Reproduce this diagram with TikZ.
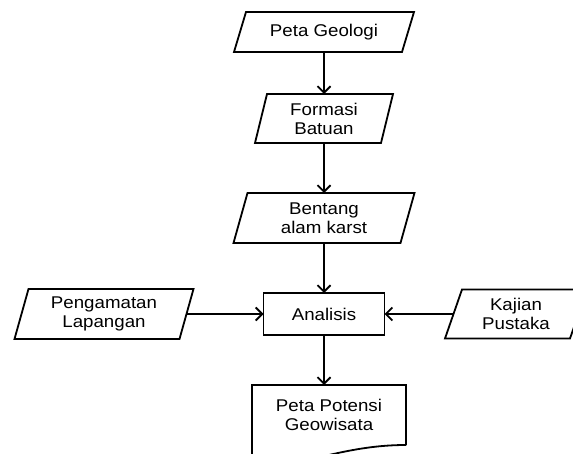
\documentclass[tikz,border=0pt]{standalone}
\usepackage{fontspec}
\setmainfont{Liberation Sans}[FakeStretch=1.1]
\usetikzlibrary{arrows.meta}
\newcommand\parashape[2]{\draw[line] ([xshift=#2/2]#1.north west) -- ([xshift=#2/2]#1.north east) -- ([xshift=-#2/2]#1.south east) -- ([xshift=-#2/2]#1.south west) -- cycle;}
\begin{document}
\begin{tikzpicture}[x=1pt,y=-1pt,
  box/.style={draw=none, inner sep=0pt, outer sep=0pt, align=center, font=\fontsize{17}{19}\selectfont},
  line/.style={line width=1.8pt, draw=black},
  arr/.style={line, -{Straight Barb[length=6.5pt,width=13pt,line width=1.8pt]}}]
\useasboundingbox (0,0) rectangle (573,454);
\clip (0,0) rectangle (573,454);
\node[box, minimum width=168pt, minimum height=40pt] (pg) at (324,32) {Peta Geologi};
\node[box, minimum width=126pt, minimum height=49pt] (fb) at (324,118.5) {Formasi\\Batuan};
\node[box, minimum width=167pt, minimum height=50pt] (ba) at (324,218) {Bentang\\alam karst};
\node[box, minimum width=121pt, minimum height=42pt] (an) at (324,314) {Analisis};
\node[box, minimum width=165pt, minimum height=50pt] (pl) at (104,314) {Pengamatan\\Lapangan};
\node[box, minimum width=125pt, minimum height=49pt] (kp) at (516,314) {Kajian\\Pustaka};
\node[box, minimum width=154pt, minimum height=60pt] (doc) at (329,415) {Peta Potensi\\Geowisata};
\parashape{pg}{12}
\parashape{fb}{12}
\parashape{ba}{14}
\parashape{pl}{14}
\parashape{kp}{17}
\draw[line] (an.north west) rectangle (an.south east);
\draw[line] (doc.south east) -- (doc.north east) -- (doc.north west) -- (252,470) -- (300,462) .. controls (340,452) and (370,445) .. (doc.south east);
\draw[arr] (pg.south) -- (fb.north);
\draw[arr] (fb.south) -- (ba.north);
\draw[arr] (ba.south) -- (ba.south |- an.north);
\draw[arr] (an.south) -- (an.south |- doc.north);
\draw[arr] (pl.east) -- (pl.east -| an.west);
\draw[arr] (kp.west) -- (kp.west -| an.east);
\end{tikzpicture}
\end{document}
